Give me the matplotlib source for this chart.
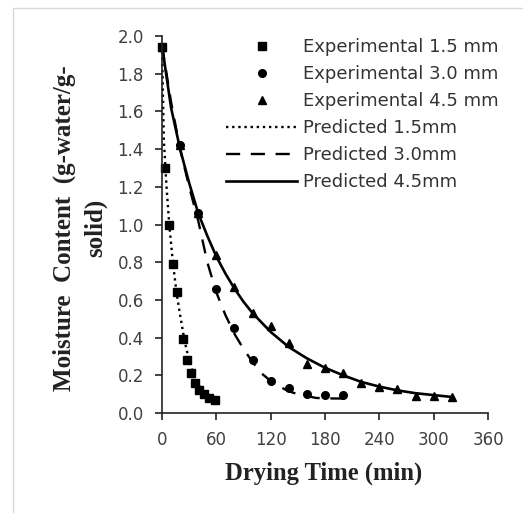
import matplotlib
matplotlib.use("Agg")
import matplotlib.pyplot as plt
from matplotlib.patches import Rectangle

# experimental points
t_15 = [0, 3, 8, 12, 17, 23, 28, 32, 36, 41, 46, 52, 58]
mc_15 = [1.94, 1.30, 1.00, 0.79, 0.64, 0.39, 0.28, 0.21, 0.16, 0.12, 0.10, 0.08, 0.07]

t_30 = [0, 20, 40, 60, 80, 100, 120, 140, 160, 180, 200]
mc_30 = [1.94, 1.42, 1.06, 0.66, 0.45, 0.28, 0.17, 0.13, 0.10, 0.095, 0.095]

t_45 = [0, 20, 40, 60, 80, 100, 120, 140, 160, 180, 200, 220, 240, 260, 280, 300, 320]
mc_45 = [1.94, 1.42, 1.06, 0.84, 0.67, 0.53, 0.46, 0.37, 0.26, 0.24, 0.21, 0.16,
         0.14, 0.125, 0.09, 0.09, 0.083]

# predicted curves
tp_15 = [0, 1, 2, 5, 8, 12, 16, 20, 25, 30, 35, 40, 45, 50, 55, 60]
mp_15 = [1.95, 1.70, 1.45, 1.20, 1.00, 0.80, 0.64, 0.52, 0.38, 0.28, 0.20, 0.15,
         0.12, 0.095, 0.08, 0.07]

tp_30 = [0, 10, 20, 30, 40, 50, 60, 70, 80, 90, 100, 110, 120, 130, 140, 150,
         160, 170, 180, 190, 200]
mp_30 = [1.95, 1.65, 1.40, 1.20, 1.02, 0.80, 0.64, 0.52, 0.42, 0.34, 0.27, 0.21,
         0.17, 0.14, 0.115, 0.10, 0.09, 0.08, 0.078, 0.077, 0.077]

tp_45 = [0, 10, 20, 30, 40, 50, 60, 70, 80, 90, 100, 120, 140, 160, 180, 200,
         220, 240, 260, 280, 300, 320]
mp_45 = [1.95, 1.62, 1.40, 1.22, 1.06, 0.94, 0.83, 0.74, 0.66, 0.59, 0.53, 0.43,
         0.35, 0.29, 0.24, 0.20, 0.165, 0.14, 0.12, 0.105, 0.095, 0.085]

x_ticks = [0, 60, 120, 180, 240, 300, 360]
y_ticks = [0.0, 0.2, 0.4, 0.6, 0.8, 1.0, 1.2, 1.4, 1.6, 1.8, 2.0]

plt.rcParams["font.family"] = ["DejaVu Sans"]

fig = plt.figure(figsize=(5.23, 5.13), dpi=100)
fig.patches.append(Rectangle((13 / 523, -0.1), 1.2, (513 - 8) / 513 + 0.1,
                             transform=fig.transFigure, fill=False,
                             edgecolor="#d9d9d9", lw=1))
ax = fig.add_axes([162 / 523, 1 - 413 / 513, 326 / 523, 377 / 513])

ax.plot(t_15, mc_15, "s", color="black", ms=6, label="Experimental 1.5 mm")
ax.plot(t_30, mc_30, "o", color="black", ms=5.5, label="Experimental 3.0 mm")
ax.plot(t_45, mc_45, "^", color="black", ms=5.5, label="Experimental 4.5 mm")
ax.plot(tp_15, mp_15, color="black", lw=1.7, ls=(0, (1, 1.6)), label="Predicted 1.5mm")
ax.plot(tp_30, mp_30, color="black", lw=1.7, ls=(0, (6, 4.5)), label="Predicted 3.0mm")
ax.plot(tp_45, mp_45, color="black", lw=1.9, ls="-", label="Predicted 4.5mm")

ax.set_xlim(0, 360)
ax.set_ylim(0, 2.0)
ax.set_xticks(x_ticks)
ax.set_yticks(y_ticks)
ax.set_yticklabels([f"{v:.1f}" for v in y_ticks])
for s in ["top", "right"]:
    ax.spines[s].set_visible(False)
for s in ["left", "bottom"]:
    ax.spines[s].set_linewidth(1.2)
    ax.spines[s].set_color("#222222")
ax.tick_params(direction="out", length=5, width=1.2, color="#222222",
               labelsize=12, labelcolor="#404040", pad=8)
for ln in ax.lines:
    ln.set_clip_on(False)

fig.text(0.5 * (225 + 423) / 523, 1 - 473 / 513, "Drying Time (min)",
         family="Liberation Serif", weight="bold", fontsize=17.7,
         ha="center", va="center", color="#222222")
fig.text(80 / 523, 1 - 228 / 513, "Moisture  Content  (g-water/g-\nsolid)",
         family="Liberation Serif", weight="bold", fontsize=18, rotation=90,
         ha="center", va="center", multialignment="center", linespacing=1.45,
         color="#222222")

leg = ax.legend(loc="upper left", bbox_to_anchor=(226 / 523, 1 - 38 / 513),
                bbox_transform=fig.transFigure, frameon=False, fontsize=13,
                borderpad=0, borderaxespad=0, handlelength=3.95,
                handletextpad=0.33, labelspacing=0.5)
for txt in leg.get_texts():
    txt.set_color("#333333")

fig.savefig("out.png", dpi=100)
